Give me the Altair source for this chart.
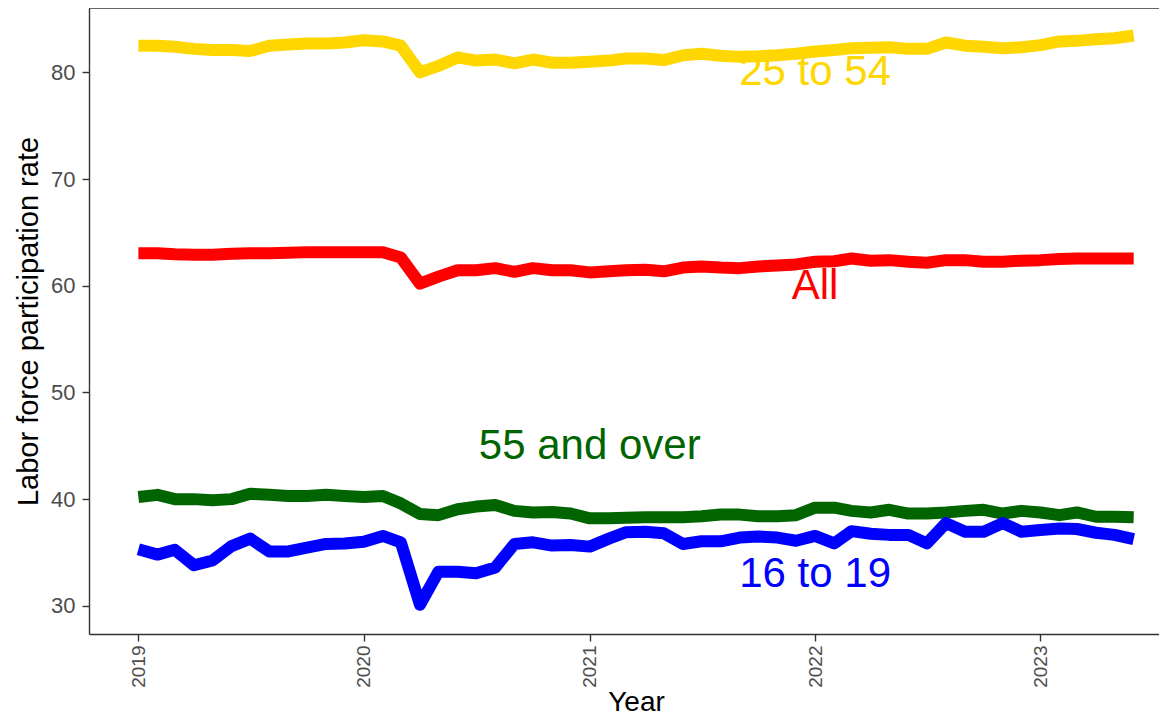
import altair as alt
import pandas as pd

# Monthly dates, Jan 2019 - Jun 2023
months = pd.date_range("2019-01-01", periods=54, freq="MS").strftime("%Y-%m-%d").tolist()

series_names = ["All", "25 to 54", "55 and over", "16 to 19"]
series_colors = ["#FF0000", "#FFD700", "#006400", "#0000FF"]

all_rate = [
    63.05, 63.05, 62.95, 62.9, 62.9, 63.0, 63.05, 63.05, 63.1, 63.15, 63.15, 63.15,
    63.15, 63.15, 62.65, 60.2, 60.85, 61.45, 61.45, 61.65, 61.3, 61.65, 61.45, 61.45,
    61.25, 61.35, 61.45, 61.5, 61.35, 61.7, 61.8, 61.7, 61.65, 61.8, 61.9, 62.0,
    62.25, 62.3, 62.55, 62.35, 62.4, 62.25, 62.15, 62.4, 62.4, 62.25, 62.25, 62.35,
    62.4, 62.5, 62.55, 62.55, 62.55, 62.55,
]
prime_age = [
    82.5, 82.5, 82.4, 82.2, 82.1, 82.1, 82.0, 82.5, 82.6, 82.7, 82.7, 82.8,
    83.0, 82.9, 82.5, 80.0, 80.6, 81.4, 81.1, 81.2, 80.85, 81.2, 80.9, 80.9,
    81.0, 81.1, 81.3, 81.3, 81.15, 81.6, 81.75, 81.55, 81.45, 81.5, 81.6, 81.75,
    81.95, 82.1, 82.25, 82.3, 82.35, 82.2, 82.2, 82.8, 82.5, 82.4, 82.25, 82.35,
    82.55, 82.9, 82.95, 83.1, 83.2, 83.45,
]
older = [
    40.2, 40.4, 40.0, 40.0, 39.9, 40.0, 40.5, 40.4, 40.3, 40.3, 40.4, 40.3,
    40.2, 40.3, 39.6, 38.6, 38.5, 39.05, 39.3, 39.45, 38.9, 38.75, 38.8, 38.65,
    38.2, 38.2, 38.25, 38.3, 38.3, 38.3, 38.4, 38.55, 38.55, 38.4, 38.4, 38.5,
    39.2, 39.2, 38.9, 38.75, 39.0, 38.65, 38.65, 38.75, 38.9, 39.0, 38.65, 38.9,
    38.75, 38.5, 38.75, 38.35, 38.35, 38.3,
]
teens = [
    35.3, 34.8, 35.25, 33.8, 34.25, 35.6, 36.3, 35.1, 35.1, 35.45, 35.8, 35.85,
    36.0, 36.55, 35.95, 30.1, 33.2, 33.2, 33.05, 33.6, 35.8, 35.95, 35.65, 35.7,
    35.55, 36.3, 36.9, 36.95, 36.8, 35.8, 36.05, 36.05, 36.4, 36.5, 36.4, 36.1,
    36.55, 35.85, 37.0, 36.75, 36.65, 36.65, 35.85, 37.75, 36.95, 36.95, 37.75, 36.95,
    37.1, 37.25, 37.2, 36.85, 36.65, 36.25,
]

label_text = ["25 to 54", "All", "55 and over", "16 to 19"]
label_dates = ["2022-01-01", "2022-01-01", "2021-01-01", "2022-01-01"]
label_values = [80, 60, 45, 33]
label_colors = ["#FFD700", "#FF0000", "#006400", "#0000FF"]

tick_years = [2019, 2020, 2021, 2022, 2023]
y_ticks = [30, 40, 50, 60, 70, 80]

rows = []
for name, vals in zip(series_names, [all_rate, prime_age, older, teens]):
    for d, v in zip(months, vals):
        rows.append({"date": d, "rate": v, "group": name})
df = pd.DataFrame(rows)
labels_df = pd.DataFrame({"date": label_dates, "rate": label_values, "group": label_text})

W, H = 1070, 626

color_scale = alt.Scale(domain=series_names, range=series_colors)
x_scale = alt.Scale(
    type="utc",
    domain=[alt.DateTime(year=2018, month=10, date=13, utc=True),
            alt.DateTime(year=2023, month=7, date=12, utc=True)],
)
y_scale = alt.Scale(domain=[27.36, 86.03], nice=False, zero=False)

x_axis = alt.Axis(
    values=[alt.DateTime(year=y, month=1, date=1, utc=True) for y in tick_years],
    labelExpr="utcFormat(datum.value, '%Y')",
    labelAngle=270, labelAlign="right", labelBaseline="middle",
    labelFontSize=19, labelColor="#4d4d4d", labelPadding=4,
    tickSize=7, tickColor="#333333", tickWidth=1.4,
    domainColor="#333333", domainWidth=1.4, grid=False,
    title="Year", titleFontSize=28, titleFontWeight="normal", titleColor="#000000",
    titleX=547, titleY=76, titleBaseline="alphabetic", titleAlign="center", titleAngle=0,
)
y_axis = alt.Axis(
    values=y_ticks,
    labelFontSize=22, labelColor="#4d4d4d", labelPadding=7,
    tickSize=7, tickColor="#333333", tickWidth=1.4,
    domainColor="#333333", domainWidth=1.4, grid=False,
    title="Labor force participation rate", titleFontSize=29, titleFontWeight="normal",
    titleColor="#000000", titleX=-61, titleY=313, titleAngle=270,
    titleBaseline="middle", titleAlign="center",
)

lines = alt.Chart(df).mark_line(strokeWidth=12, strokeJoin="round", strokeCap="butt").encode(
    x=alt.X("date:T", scale=x_scale, axis=x_axis),
    y=alt.Y("rate:Q", scale=y_scale, axis=y_axis),
    color=alt.Color("group:N", scale=color_scale, legend=None),
    detail="group:N",
)

texts = alt.Chart(labels_df).mark_text(fontSize=42, align="center", baseline="middle",
                                       font="Liberation Sans").encode(
    x=alt.X("date:T"),
    y=alt.Y("rate:Q"),
    color=alt.Color("group:N", scale=alt.Scale(domain=label_text, range=label_colors),
                    legend=None),
    text="group:N",
)

top_border = alt.Chart(pd.DataFrame({"k": [0]})).mark_rule(color="#333333", strokeWidth=1.4).encode(
    x=alt.value(0), x2=alt.value(W), y=alt.value(0)
)

chart = alt.layer(lines, texts, top_border).resolve_scale(color="independent").properties(
    width=W, height=H,
    autosize=alt.AutoSizeParams(type="none"),
    padding={"left": 81, "top": 0, "right": 0, "bottom": 83},
).configure(font="Liberation Sans").configure_view(stroke=None)

chart.save("out.html", embed_options={"renderer": "svg", "actions": False})
